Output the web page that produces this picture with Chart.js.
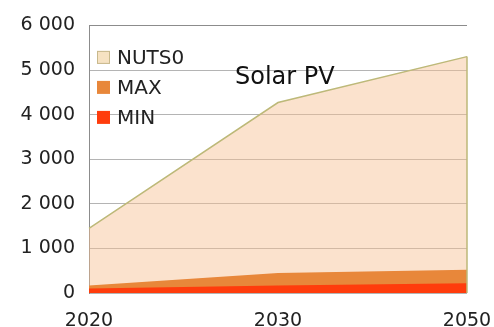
<!DOCTYPE html>
<html>
<head>
<meta charset="utf-8">
<script src="https://cdn.jsdelivr.net/npm/chart.js@4/dist/chart.umd.min.js"></script>
<style>
  html, body { margin: 0; padding: 0; background: #fff; }
  #wrap { width: 494px; height: 327px; }
</style>
</head>
<body>
<div id="wrap"><canvas id="chart"></canvas></div>
<script>
// values
const years = ['2020', '2030', '2050'];
const nuts0 = [1450, 4270, 5300];
const maxValues = [170, 450, 520];
const minValues = [100, 170, 220];
const yTicks = [0, 1000, 2000, 3000, 4000, 5000, 6000];
const chartTitle = 'Solar PV';

const fontFamily = '"DejaVu Sans", Verdana, sans-serif';
const fmt = (v) => String(v).replace(/\B(?=(\d{3})+(?!\d))/g, ' ');

// legend + title drawn inside the plot area, like the original
const insideLegend = {
  id: 'insideLegend',
  afterDatasetsDraw(chart) {
    const { ctx, chartArea, scales } = chart;
    ctx.save();

    // closing edge of the NUTS0 area at the last year
    const nutsIndex = chart.data.datasets.findIndex(d => d.label === 'NUTS0');
    const pts = chart.getDatasetMeta(nutsIndex).data;
    const last = pts[pts.length - 1];
    ctx.strokeStyle = chart.data.datasets[nutsIndex].borderColor;
    ctx.lineWidth = 1.5;
    ctx.beginPath();
    ctx.moveTo(last.x, last.y);
    ctx.lineTo(last.x, scales.y.getPixelForValue(0));
    ctx.stroke();

    // legend, NUTS0 first
    const items = chart.data.datasets.slice().reverse();
    ctx.font = '20px ' + fontFamily;
    ctx.textBaseline = 'middle';
    ctx.textAlign = 'left';
    items.forEach((ds, i) => {
      const cy = chartArea.top + 32 + i * 30;
      const bx = chartArea.left + 8;
      ctx.fillStyle = ds.legendColor;
      ctx.fillRect(bx, cy - 6.5, 13, 13);
      if (ds.legendBorder) {
        ctx.strokeStyle = ds.legendBorder;
        ctx.lineWidth = 1;
        ctx.strokeRect(bx + 0.5, cy - 6, 12, 12);
      }
      ctx.fillStyle = '#222';
      ctx.fillText(ds.label, bx + 20, cy + 1);
    });

    ctx.font = '24px ' + fontFamily;
    ctx.textBaseline = 'alphabetic';
    ctx.fillStyle = '#111';
    ctx.fillText(chartTitle, chartArea.left + 146, chartArea.top + 59);
    ctx.restore();
  }
};

new Chart(document.getElementById('chart'), {
  type: 'line',
  data: {
    labels: years,
    datasets: [
      {
        label: 'MIN',
        data: minValues,
        fill: 'origin',
        backgroundColor: '#ff3c0c',
        borderColor: '#ff3c0c',
        borderWidth: 0,
        legendColor: '#ff3c0c',
      },
      {
        label: 'MAX',
        data: maxValues,
        fill: 'origin',
        backgroundColor: '#e8873a',
        borderColor: '#e8873a',
        borderWidth: 0,
        legendColor: '#e8873a',
      },
      {
        label: 'NUTS0',
        data: nuts0,
        fill: 'origin',
        backgroundColor: 'rgba(247, 190, 145, 0.45)',
        borderColor: '#bdb979',
        borderWidth: 1.5,
        legendColor: '#f6e2c2',
        legendBorder: '#c8b98c',
      },
    ],
  },
  options: {
    responsive: true,
    maintainAspectRatio: false,
    animation: false,
    layout: { autoPadding: false, padding: { top: 24, right: 27, left: 0, bottom: 0 } },
    elements: { line: { tension: 0 }, point: { radius: 0 } },
    plugins: {
      legend: { display: false },
      tooltip: { enabled: false },
    },
    scales: {
      x: {
        grid: { display: false },
        border: { display: false },
        ticks: {
          color: '#222',
          padding: 9,
          maxRotation: 0,
          font: { family: fontFamily, size: 19 },
        },
        afterFit: (scale) => {
          scale.height = 34;
          scale.paddingLeft = 0;
          scale.paddingRight = 0;
        },
      },
      y: {
        min: 0,
        max: 6000,
        afterBuildTicks: (scale) => { scale.ticks = yTicks.map(v => ({ value: v })); },
        grid: {
          drawTicks: false,
          color: (ctx) => ctx.tick && ctx.tick.value === 6000 ? '#8c8c8c' : '#b4b4b4',
        },
        border: { display: true, color: '#8c8c8c' },
        ticks: {
          color: '#222',
          padding: 14,
          font: { family: fontFamily, size: 19 },
          callback: (v) => fmt(v),
        },
        afterFit: (scale) => { scale.width = 89; },
      },
    },
  },
  plugins: [insideLegend],
});
</script>
</body>
</html>
